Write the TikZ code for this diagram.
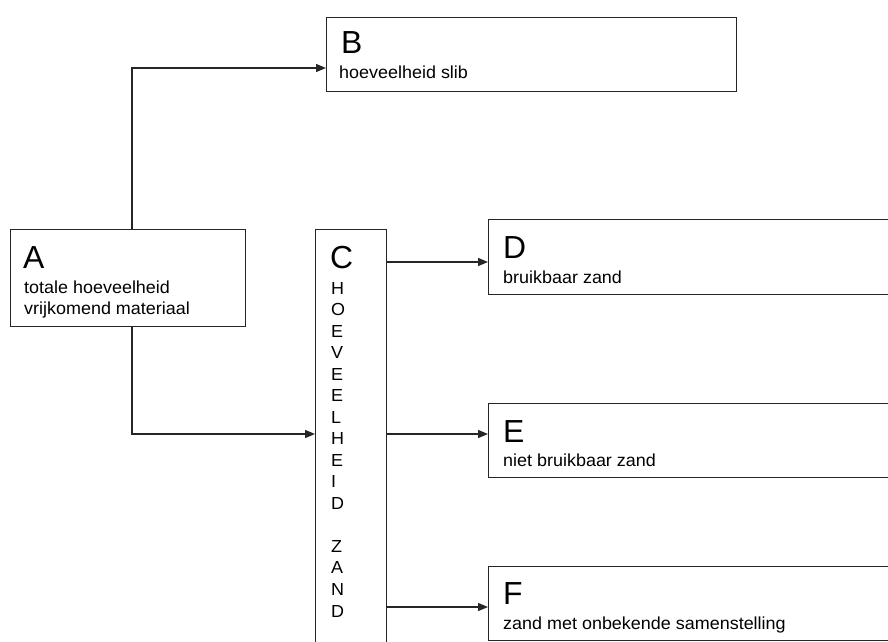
\documentclass[tikz,border=0pt]{standalone}
\usepackage{fontspec}
\setmainfont{Liberation Sans}
\newfontfamily\smallfam[FakeStretch=1.03]{Liberation Sans}
\usetikzlibrary{arrows.meta}
\begin{document}
\begin{tikzpicture}[x=1bp,y=-1bp,
  box/.style={draw=black!85,line width=1.3bp,rectangle,inner sep=0,anchor=north west},
  big/.style={anchor=base west,inner sep=0,font=\fontsize{32}{32}\selectfont},
  small/.style={anchor=base west,inner sep=0,font=\smallfam\fontsize{17.5}{20.5}\selectfont,align=left},
  arr/.style={draw=black!85,line width=1.3bp,-{Triangle[length=10bp,width=8bp]}}]
\useasboundingbox (0,0) rectangle (888,642);
\begin{scope}
\clip (0,0) rectangle (888,642);
\node[box,minimum width=235bp,minimum height=97bp] (A) at (10,229) {};
\node[box,minimum width=410bp,minimum height=74bp] (B) at (326,17) {};
\node[box,minimum width=71bp,minimum height=440bp] (C) at (315,229) {};
\node[box,minimum width=420bp,minimum height=75bp] (D) at (488,219) {};
\node[box,minimum width=420bp,minimum height=74bp] (E) at (488,403) {};
\node[box,minimum width=420bp,minimum height=74bp] (F) at (488,566) {};
\end{scope}
% labels
\node[big] (tA) at (23,268) {A};
\node[small] (sA) at (24,314) {totale hoeveelheid\\vrijkomend materiaal};
\node[big] (tB) at (341,54) {B};
\node[small] (sB) at (339,79) {hoeveelheid slib};
\node[big] (tC) at (330,268) {C};
\node[anchor=base west,inner sep=0,font=\smallfam\fontsize{17.5}{21.6}\selectfont,align=left] (sC) at (331,617)
  {H\\O\\E\\V\\E\\E\\L\\H\\E\\I\\D\\[21.6bp]Z\\A\\N\\D};
\node[big] (tD) at (503,259) {D};
\node[small] (sD) at (503,283) {bruikbaar zand};
\node[big] (tE) at (503,442) {E};
\node[small] (sE) at (503,466) {niet bruikbaar zand};
\node[big] (tF) at (503,604) {F};
\node[small] (sF) at (503,629) {zand met onbekende samenstelling};
% connectors
\coordinate (bIn) at (326,68);
\coordinate (cIn) at (315,434);
\draw[arr] (A.north west -| 132,0) |- (bIn);
\draw[arr] (A.south west -| 132,0) |- (cIn);
\draw[arr] (C.north east |- 0,262) -- (D.north west |- 0,262);
\draw[arr] (C.north east |- 0,434) -- (E.north west |- 0,434);
\draw[arr] (C.north east |- 0,607) -- (F.north west |- 0,607);
\end{tikzpicture}
\end{document}
